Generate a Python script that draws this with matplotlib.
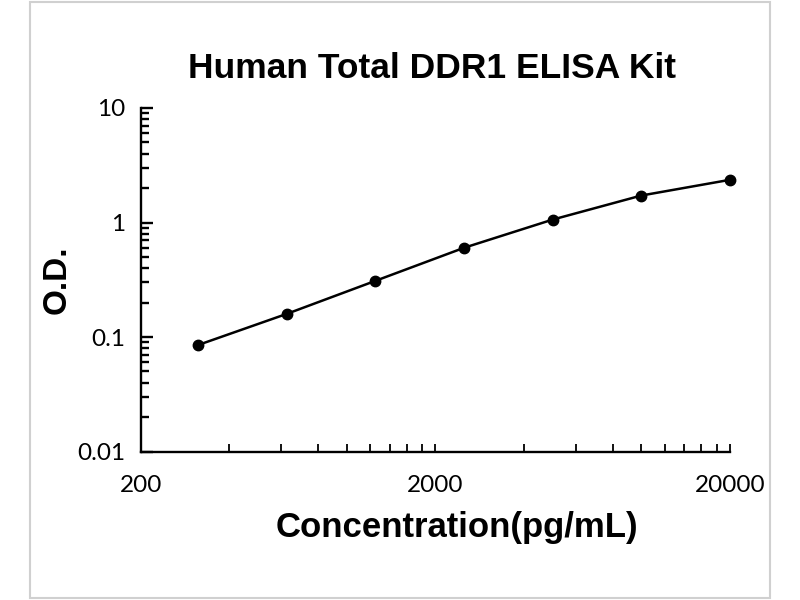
import matplotlib
matplotlib.use("Agg")
import matplotlib.pyplot as plt
from matplotlib.ticker import FixedLocator, FixedFormatter, NullFormatter
from matplotlib.patches import Rectangle

concentration = [312.5, 625, 1250, 2500, 5000, 10000, 20000]
od = [0.085, 0.159, 0.309, 0.601, 1.06, 1.72, 2.36]

x_major = [200, 2000, 20000]
x_major_labels = ["200", "2000", "20000"]
x_minor = [400, 600, 800, 1000, 1200, 1400, 1600, 1800,
           4000, 6000, 8000, 10000, 12000, 14000, 16000, 18000]
y_major = [0.01, 0.1, 1, 10]
y_major_labels = ["0.01", "0.1", "1", "10"]

title = "Human Total DDR1 ELISA Kit"
xlabel = "Concentration(pg/mL)"
ylabel = "O.D."

fig = plt.figure(figsize=(8, 6), dpi=100)
fig.patch.set_facecolor("white")
ax = fig.add_axes([0.176, 0.2475, 0.7365, 0.5725])

ax.plot(concentration, od, color="black", lw=1.8, marker="o", ms=7.5,
        mfc="black", mec="black", zorder=3, clip_on=False)

ax.set_xscale("log")
ax.set_yscale("log")
ax.set_xlim(200, 20000)
ax.set_ylim(0.01, 10)

ax.xaxis.set_major_locator(FixedLocator(x_major))
ax.xaxis.set_major_formatter(FixedFormatter(x_major_labels))
ax.xaxis.set_minor_locator(FixedLocator(x_minor))
ax.xaxis.set_minor_formatter(NullFormatter())
ax.yaxis.set_major_locator(FixedLocator(y_major))
ax.yaxis.set_major_formatter(FixedFormatter(y_major_labels))
ax.yaxis.set_minor_formatter(NullFormatter())

for s in ["top", "right"]:
    ax.spines[s].set_visible(False)
for s in ["left", "bottom"]:
    ax.spines[s].set_linewidth(1.7)

tickfont = "Lato"
ax.tick_params(axis="x", which="both", direction="in", length=6, width=1.3,
               pad=17, labelsize=17.5)
ax.tick_params(axis="y", which="major", direction="in", length=8.5, width=1.7,
               pad=11, labelsize=17.5)
ax.tick_params(axis="y", which="minor", direction="in", length=6, width=1.7)
for lab in ax.get_xticklabels() + ax.get_yticklabels():
    lab.set_fontfamily(tickfont)

fig.text(0.54, 0.885, title, ha="center", va="center", fontsize=25.5,
         fontweight="bold", family="Liberation Sans")
fig.text(0.571, 0.12, xlabel, ha="center", va="center", fontsize=25,
         fontweight="bold", family="Liberation Sans")
fig.text(0.072, 0.533, ylabel, ha="center", va="center", fontsize=24,
         fontweight="bold", family="Liberation Sans", rotation=90)

fig.patches.append(Rectangle((30 / 800, 2 / 600), 740 / 800, 596 / 600,
                             transform=fig.transFigure, fill=False,
                             edgecolor="#d0d0d0", lw=1.5))

fig.savefig("out.png", dpi=100, facecolor="white")
